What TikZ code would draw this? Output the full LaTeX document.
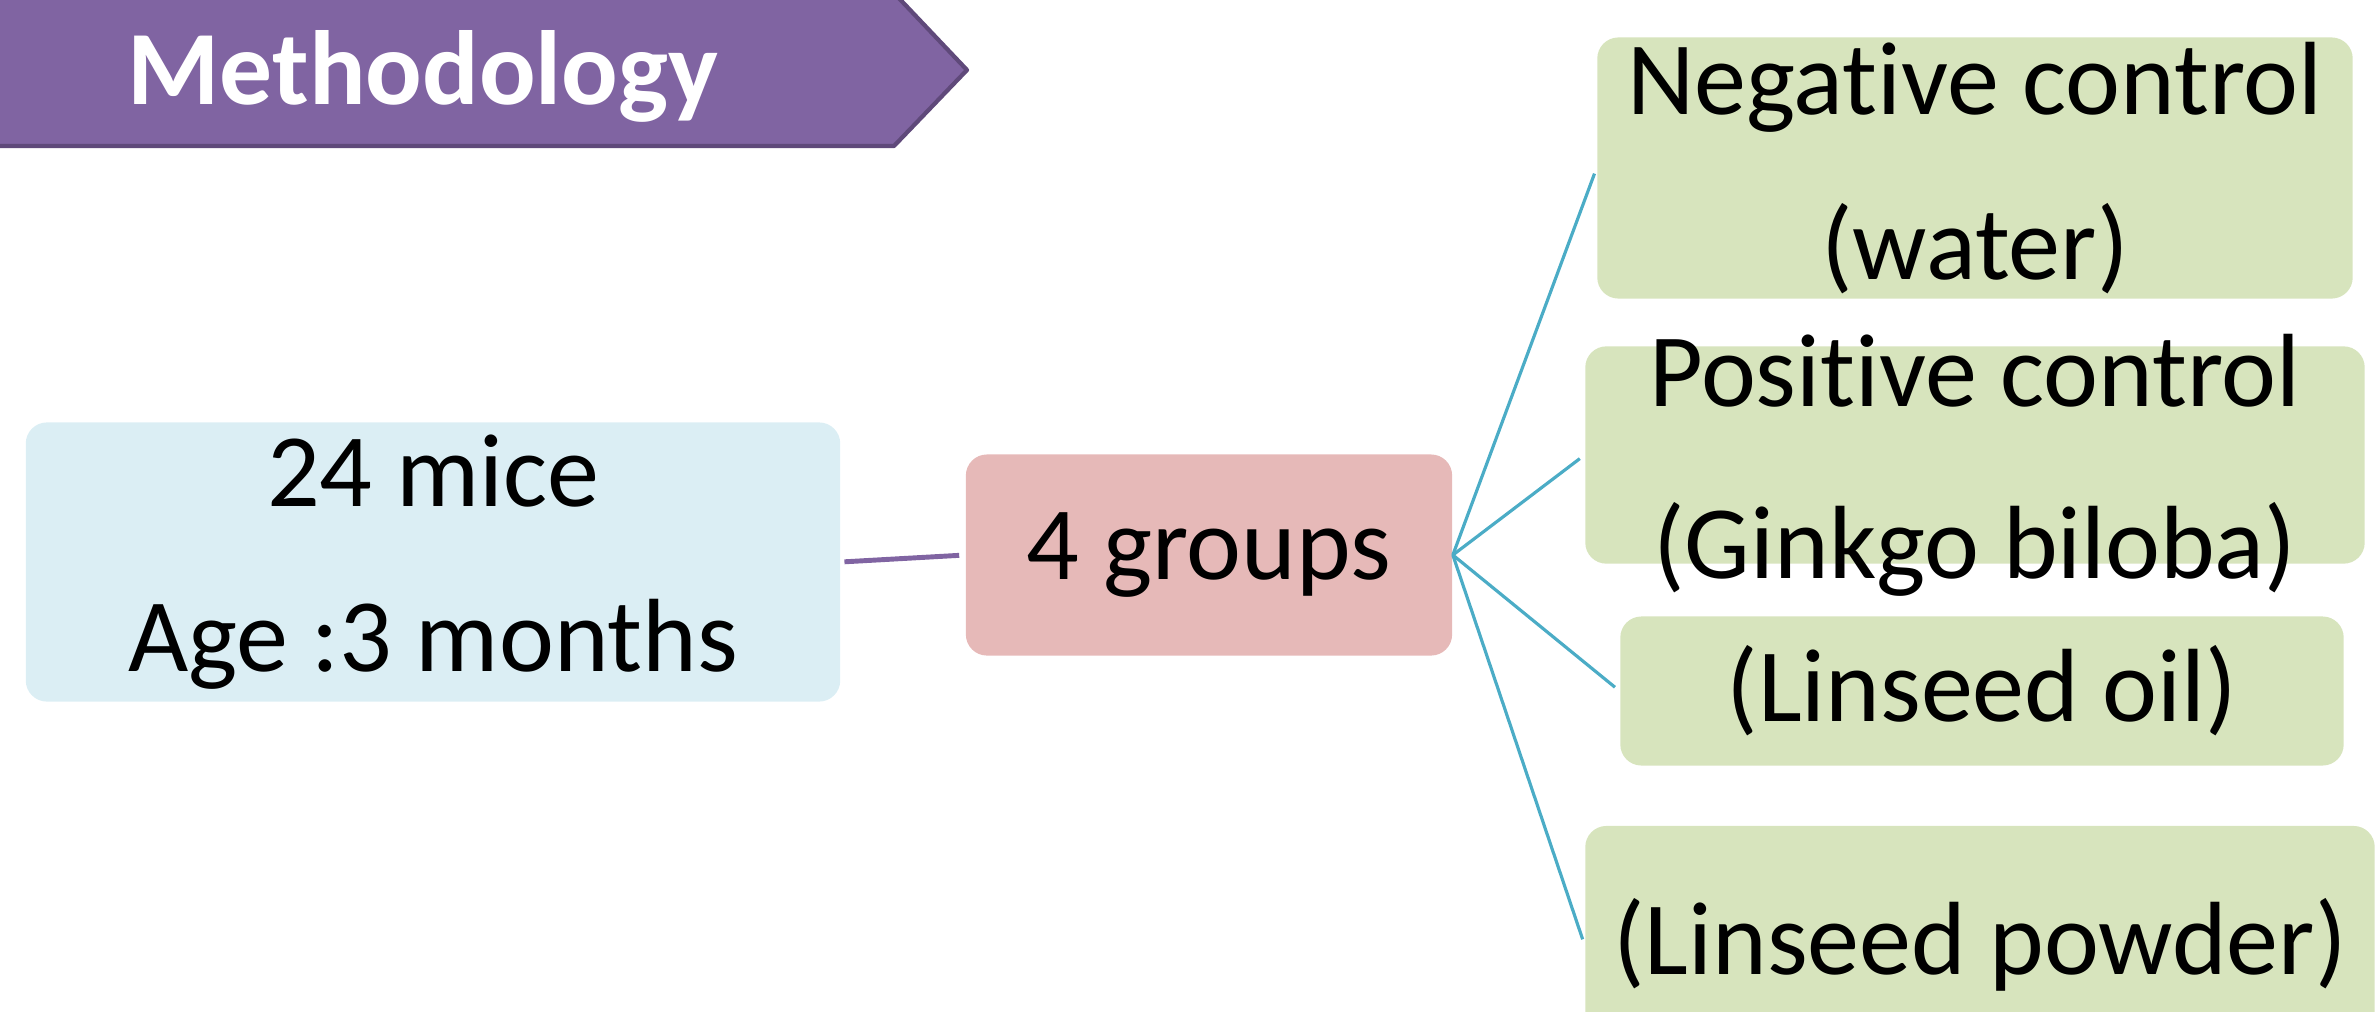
\documentclass[tikz,border=0pt]{standalone}
\usepackage{fontspec}
\setmainfont{Carlito}[Ligatures=CommonOff]
\definecolor{head}{HTML}{8064A2}
\definecolor{headdark}{HTML}{5F497A}
\definecolor{cohort}{HTML}{DBEEF4}
\definecolor{split}{HTML}{E6B9B8}
\definecolor{arm}{HTML}{D7E4BD}
\definecolor{spoke}{HTML}{4BACC6}
\newcommand{\sink}[1]{\raisebox{-4.3pt}{#1}}
\tikzset{
  bigtext/.style={font=\fontsize{29.6}{47}\selectfont, align=center,
                  inner sep=0pt, text=black},
  cohortbox/.style={bigtext, fill=cohort, rounded corners=6pt},
  splitbox/.style={bigtext, fill=split, rounded corners=6pt},
  armbox/.style={bigtext, fill=arm, rounded corners=6pt},
  title/.style={font=\fontsize{30}{36}\selectfont\bfseries, text=white},
  link/.style={draw=head, line width=1.4pt},
  spokeline/.style={draw=spoke, line width=0.9pt},
}

\begin{document}
\begin{tikzpicture}[x=0.01cm, y=-0.01cm]
  \useasboundingbox (0,0) rectangle (2377,1011);
  \clip (0,0) rectangle (2377,1011);

  % banner
  \fill[head] (0,-7) -- (894,-7) -- (967,70) -- (894,147) -- (0,147) -- cycle;
  \draw[headdark, line width=1.2pt, line join=round]
    (0,146) -- (894,146) -- (967,70) -- (894,-7);
  \node[title] (ttl) at (423,76) {Methodology};

  \node[cohortbox, minimum width=8.14cm, minimum height=2.79cm]
       (mice) at (433,562) {24 mice\\Age :3 months};
  \node[splitbox, minimum width=4.86cm, minimum height=2.01cm]
       (grp) at (1209,555) {4 groups};

  \node[armbox, minimum width=7.55cm, minimum height=2.61cm]
       (neg) at (1975,168) {Negative control\\(water)};
  % text runs out of this one at the bottom
  \node[armbox, minimum width=7.79cm, text height=61.8pt, text depth=0pt,
        font=\fontsize{29.6}{49}\selectfont]
       (pos) at (1975,455) {\sink{Positive control}\\\sink{(Ginkgo biloba)}};
  \node[armbox, minimum width=7.23cm, minimum height=1.49cm]
       (oil) at (1982,691) {(Linseed oil)};
  \node[armbox, minimum width=7.89cm, minimum height=2.38cm]
       (pow) at (1980,945) {(Linseed powder)};

  \draw[link, shorten <=1pt, shorten >=1.7pt] (mice.east) -- (grp.west);
  \foreach \g in {neg, pos, oil, pow}
    \draw[spokeline, shorten >=1.7pt] (grp.east) -- (\g.west);
\end{tikzpicture}
\end{document}
